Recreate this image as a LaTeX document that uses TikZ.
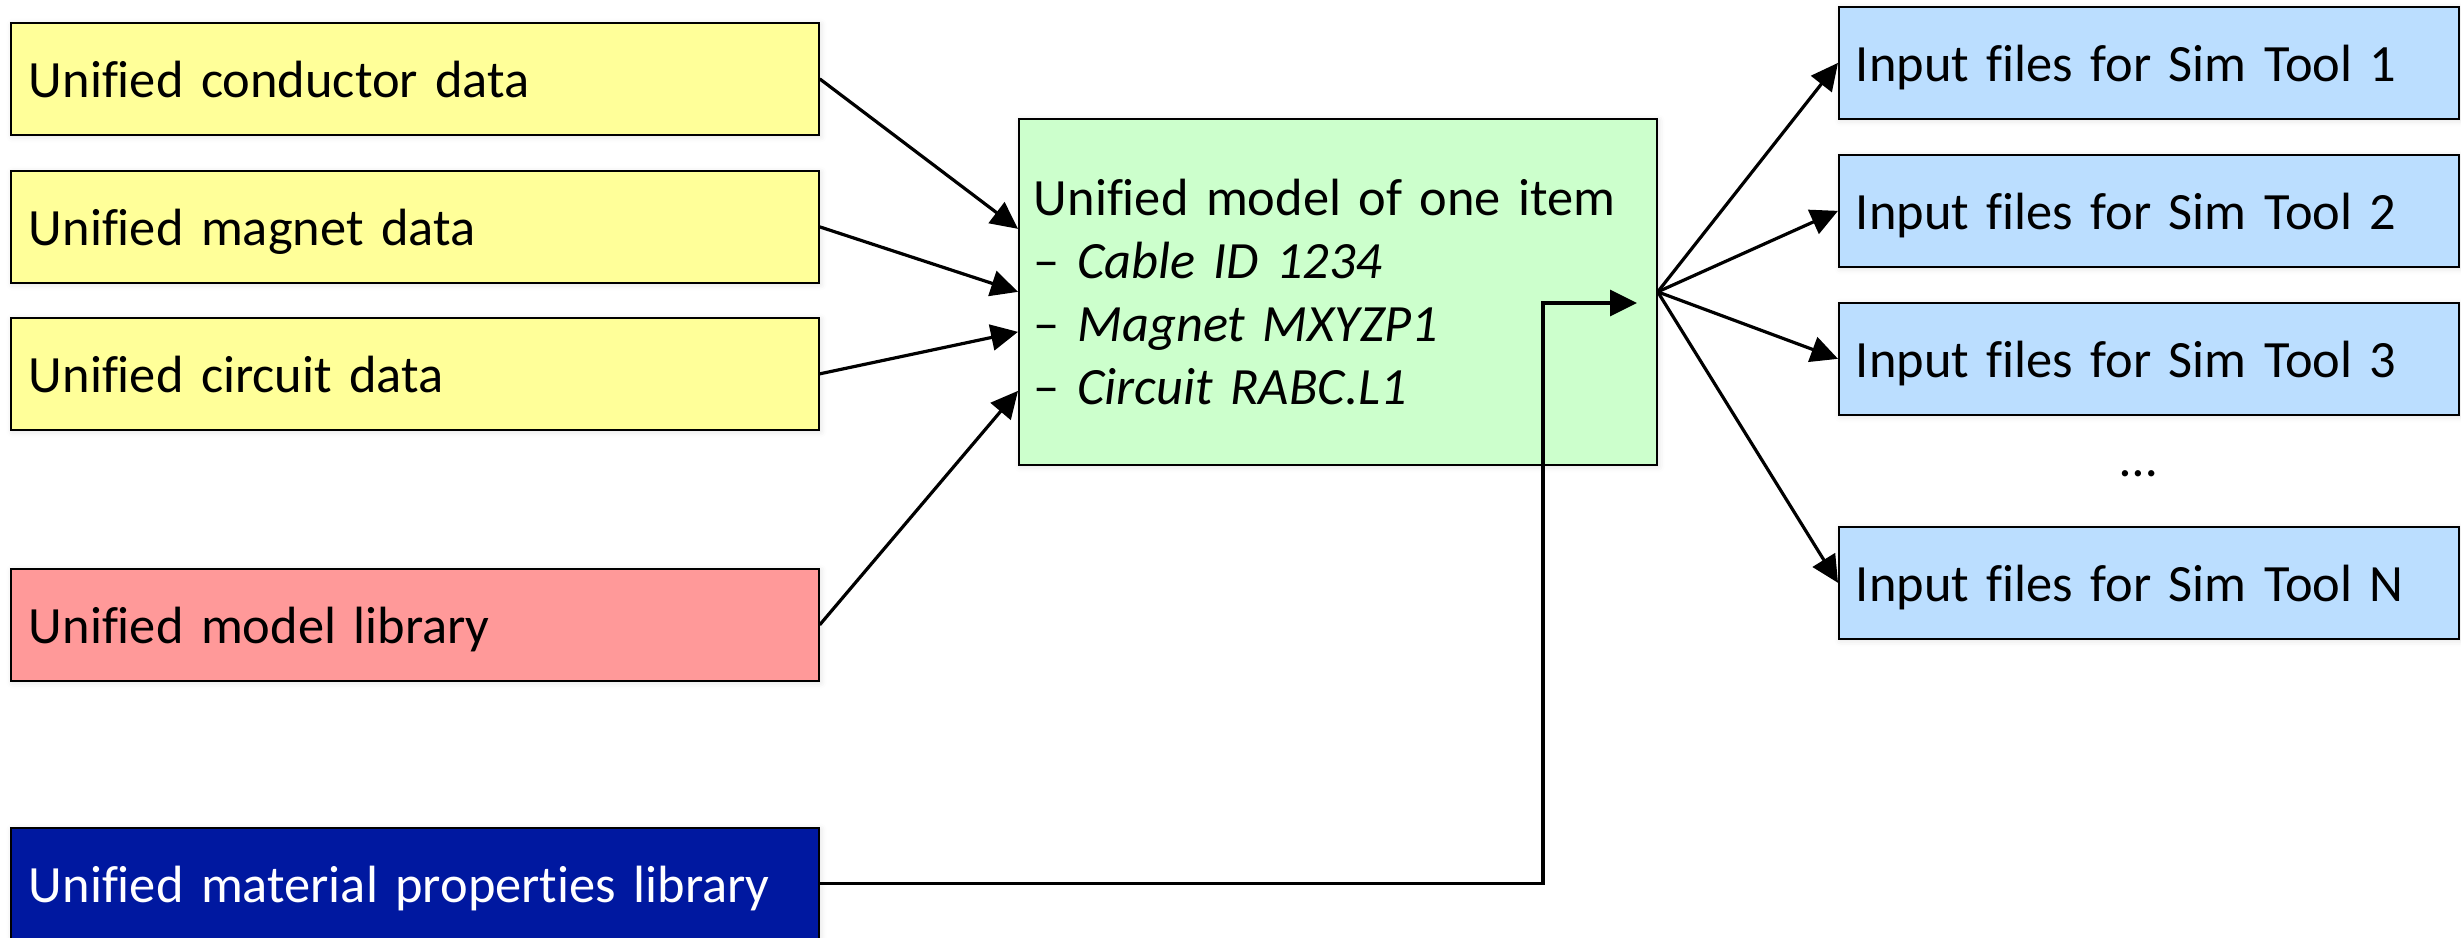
\documentclass[tikz,border=0pt]{standalone}
\usepackage{fontspec}
\setmainfont{Carlito}[Ligatures=NoCommon]
\usetikzlibrary{arrows.meta,calc,shadows.blur}

\definecolor{dataYellow}{RGB}{255,255,153}
\definecolor{libRed}{RGB}{255,153,153}
\definecolor{matBlue}{RGB}{0,24,160}
\definecolor{modelGreen}{RGB}{204,255,204}
\definecolor{outBlue}{RGB}{187,222,255}

\begin{document}
\begin{tikzpicture}[x=0.5pt,y=-0.5pt,
  boxbase/.style={draw=black, line width=0.85pt, anchor=north west,
    inner ysep=0pt, align=left, font=\fontsize{26.2}{31.5}\selectfont,
    blur shadow={shadow xshift=0.8pt, shadow yshift=-0.8pt,
      shadow blur radius=3pt, shadow opacity=12}},
  linebox/.style={boxbase, minimum height=56pt, text height=19pt, text depth=0pt},
  srcbox/.style={linebox, minimum width=404pt, inner xsep=9pt, text width=386pt},
  outbox/.style={linebox, minimum width=310pt, inner xsep=8.5pt, text width=293pt, fill=outBlue},
  link/.style={line width=1.6pt, -{Triangle[length=13.5pt,width=13pt]}}
]
\useasboundingbox (0,0) rectangle (2461,937);

% sources on the left
\node[srcbox, fill=dataYellow] (cond) at (10,22)  {Unified conductor data};
\node[srcbox, fill=dataYellow] (mag)  at (10,170) {Unified magnet data};
\node[srcbox, fill=dataYellow] (circ) at (10,317) {Unified circuit data};
\node[srcbox, fill=libRed]     (lib)  at (10,568) {Unified model library};
\node[srcbox, fill=matBlue, text=white] (mat) at (10,827) {Unified material properties library};

% the unified model in the middle
\node[boxbase, fill=modelGreen, minimum width=319pt, minimum height=173pt,
      inner xsep=7.5pt, text width=304pt] (model) at (1018,118)
  {Unified model of one item\\
   – \textit{Cable ID 1234}\\
   – \textit{Magnet MXYZP1}\\
   – \textit{Circuit RABC.L1}};

% generated input files on the right
\node[outbox] (sim1) at (1838,6)   {Input files for Sim Tool 1};
\node[outbox] (sim2) at (1838,154) {Input files for Sim Tool 2};
\node[outbox] (sim3) at (1838,302) {Input files for Sim Tool 3};
\node[outbox] (simN) at (1838,526) {Input files for Sim Tool N};
\node[anchor=base, font=\fontsize{26.2}{31.5}\selectfont, inner sep=0pt] (dots) at (2139,476) {…};

% inputs into the model
\draw[link] (cond.east) -- ([yshift=31.5pt]model.west);
\draw[link] (mag.east)  -- (model.west);
\draw[link] (circ.east) -- ([yshift=-20pt]model.west);
\draw[link] (lib.east)  -- ([yshift=-49.5pt]model.west);

% material properties feed
\coordinate (bend) at (1543,303);
\coordinate (feedtip) at (1637,303);
\draw[link] (mat.east) -| (bend) -- (feedtip);

% outputs
\draw[link] (model.east) -- (sim1.west);
\draw[link] (model.east) -- (sim2.west);
\draw[link] (model.east) -- (sim3.west);
\draw[link] (model.east) -- (simN.west);
\end{tikzpicture}
\end{document}
